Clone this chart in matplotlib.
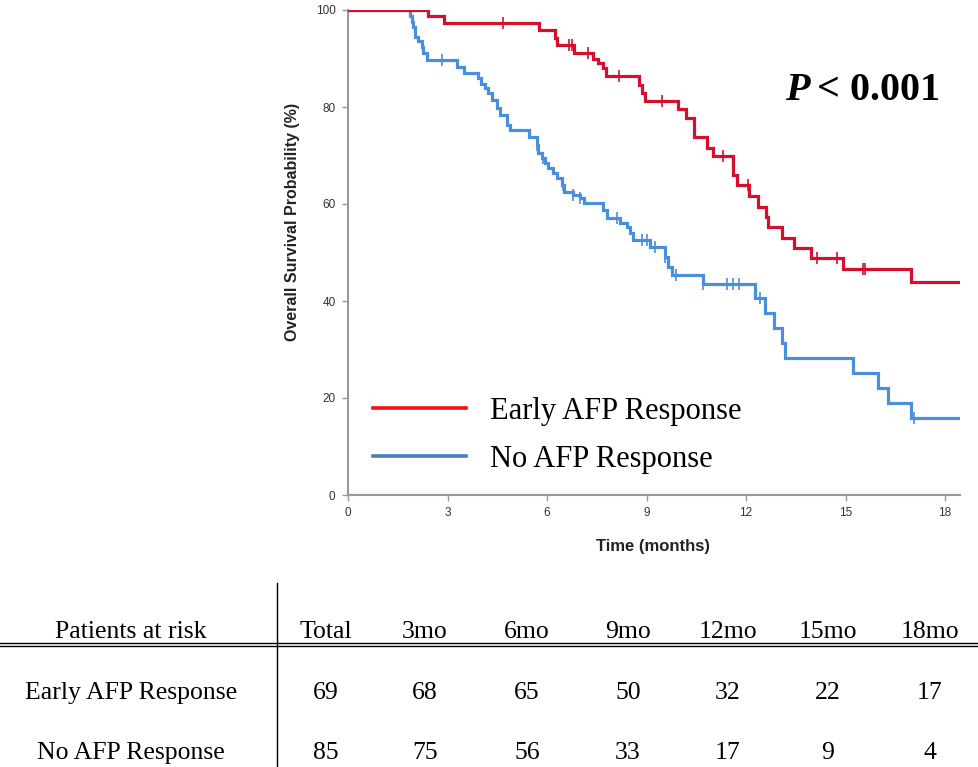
import numpy as np
import matplotlib
matplotlib.use("Agg")
from matplotlib import pyplot as plt
from matplotlib.lines import Line2D

# Kaplan-Meier steps: (time in months, survival % after the drop)
early_times = [0, 2.42, 2.90, 5.76, 6.24, 6.30, 6.80, 7.38, 7.54, 7.70, 7.78, 8.77, 8.86,
               8.96, 9.95, 10.19, 10.43, 10.82, 11.00, 11.60, 11.73, 12.10, 12.37, 12.60,
               12.66, 13.08, 13.45, 13.96, 14.92, 16.97]
early_surv = [100, 98.8, 97.3, 95.8, 94.3, 92.8, 91.1, 89.9, 89.1, 88.0, 86.4, 84.5, 82.9,
              81.2, 79.6, 77.7, 73.8, 71.5, 69.9, 66.0, 63.9, 61.6, 59.4, 57.3,
              55.3, 53.0, 50.9, 48.9, 46.6, 43.9]
early_censor = [4.67, 6.66, 6.75, 7.24, 8.17, 9.47, 11.31, 12.06, 14.14, 14.74, 15.53, 15.59]

no_times = [0, 1.88, 1.92, 1.95, 2.02, 2.12, 2.22, 2.26, 2.37, 3.29, 3.50, 3.92, 4.00, 4.13,
            4.22, 4.33, 4.49, 4.58, 4.78, 4.88, 5.46, 5.69, 5.72, 5.85, 5.93, 6.02, 6.17,
            6.29, 6.44, 6.50, 6.78, 6.99, 7.12, 7.69, 7.81, 8.20, 8.41, 8.50, 8.59, 9.11,
            9.56, 9.65, 9.77, 10.70, 12.27, 12.57, 12.84, 13.08, 13.17, 15.22, 15.98,
            16.28, 16.97]
no_surv = [100, 98.8, 97.6, 96.5, 94.5, 93.6, 92.4, 91.1, 89.7, 88.3, 87.1, 86.0, 84.7, 83.9,
           82.9, 81.4, 79.8, 78.4, 76.3, 75.3, 73.9, 72.2, 70.5, 69.5, 68.4, 67.4, 66.4,
           65.4, 63.9, 62.5, 61.9, 61.2, 60.2, 58.8, 57.1, 56.1, 55.3, 54.0, 52.6, 51.1,
           49.1, 47.0, 45.4, 43.5, 40.6, 37.5, 34.4, 31.3, 28.2, 25.1, 22.0,
           19.0, 15.9]
no_censor = [2.82, 5.70, 5.88, 6.48, 6.78, 6.99, 8.11, 8.86, 9.02, 9.26, 9.56, 9.89, 10.70,
             11.43, 11.60, 11.79, 12.42, 17.06]

end_time = 18.45

# patients-at-risk table
risk_columns = ["Total", "3mo", "6mo", "9mo", "12mo", "15mo", "18mo"]
risk_groups = ["Early AFP Response", "No AFP Response"]
risk_early = [69, 68, 65, 50, 32, 22, 17]
risk_no = [85, 75, 56, 33, 17, 9, 4]

W, H = 979, 767
SERIF = "Liberation Serif"
SANS = "Liberation Sans"
RED = "#d3102e"
BLUE = "#4a8fdc"


def surv_at(times, surv, t):
    idx = np.searchsorted(times, t, side="right") - 1
    return np.asarray(surv)[idx]


def px(x, y):
    return x / W, 1 - y / H


fig = plt.figure(figsize=(W / 100, H / 100), dpi=100)
ax = fig.add_axes([348 / W, 1 - 495 / H, (960 - 348) / W, (495 - 10) / H])

for times, surv, cens, color in [(no_times, no_surv, no_censor, BLUE),
                                 (early_times, early_surv, early_censor, RED)]:
    t = list(times) + [end_time]
    s = list(surv) + [surv[-1]]
    ax.step(t, s, where="post", color=color, lw=2.3, solid_joinstyle="miter", zorder=3)
    ax.plot(cens, surv_at(times, surv, cens), ls="none", marker="|", ms=8, mew=1.2,
            color=color, zorder=4)

ax.set_xlim(0, end_time)
ax.set_ylim(0, 100)
ax.set_xticks(range(0, 19, 3))
ax.set_yticks(range(0, 101, 20))
for side in ["top", "right"]:
    ax.spines[side].set_visible(False)
for side in ["left", "bottom"]:
    ax.spines[side].set_color("#999999")
    ax.spines[side].set_linewidth(1.5)
ax.tick_params(axis="both", direction="out", length=4, width=1, color="#999999",
               labelsize=8.5, labelcolor="#333333", pad=5)
for lab in ax.get_xticklabels() + ax.get_yticklabels():
    lab.set_fontfamily(SANS)

# axis titles placed by hand
fig.text(*px(653, 547), "Time (months)", fontfamily=SANS, fontsize=12, fontweight="bold",
         color="#222222", ha="center", va="center")
fig.text(*px(292, 222), "Overall Survival Probability (%)", fontfamily=SANS, fontsize=11.5,
         fontweight="bold", color="#222222", ha="center", va="center", rotation=90)

# legend drawn by hand to match the placement
for y, color, label in [(408, "#ee1111", risk_groups[0]), (456, "#4a7fc4", risk_groups[1])]:
    x0, y0 = px(373, y)
    x1, _ = px(466, y)
    fig.add_artist(Line2D([x0, x1], [y0, y0], color=color, lw=2.6))
    tx, ty = px(490, y + 3)
    fig.text(tx, ty, label, fontfamily=SERIF, fontsize=22, va="center", ha="left",
             color="black")

tx, ty = px(940, 90)
fig.text(px(785, 90)[0], ty, "P", fontfamily=SERIF, fontsize=29, fontweight="bold",
         fontstyle="italic", va="center", ha="left")
fig.text(tx, ty, "< 0.001", fontfamily=SERIF, fontsize=29, fontweight="bold",
         va="center", ha="right")

# table
fig.add_artist(Line2D([0, 1], [px(0, 642.5)[1]] * 2, color="black", lw=1))
fig.add_artist(Line2D([0, 1], [px(0, 645.5)[1]] * 2, color="black", lw=1))
fig.add_artist(Line2D([px(277, 0)[0]] * 2, [px(0, 583)[1], 0], color="black", lw=1))

col_x = [326, 425, 527, 628, 728, 828, 930]
row_y = [632, 693, 753]
TS = 18.5
fig.text(*px(131, row_y[0]), "Patients at risk", fontfamily=SERIF, fontsize=TS,
         ha="center", va="center")
fig.text(*px(131, row_y[1]), risk_groups[0], fontfamily=SERIF, fontsize=TS,
         ha="center", va="center")
fig.text(*px(131, row_y[2]), risk_groups[1], fontfamily=SERIF, fontsize=TS,
         ha="center", va="center")
for x, col, a, b in zip(col_x, risk_columns, risk_early, risk_no):
    fig.text(*px(x, row_y[0]), col, fontfamily=SERIF, fontsize=TS, ha="center", va="center")
    fig.text(*px(x, row_y[1]), str(a), fontfamily=SERIF, fontsize=TS, ha="center", va="center")
    fig.text(*px(x, row_y[2]), str(b), fontfamily=SERIF, fontsize=TS, ha="center", va="center")

fig.savefig("out.png", dpi=100)
